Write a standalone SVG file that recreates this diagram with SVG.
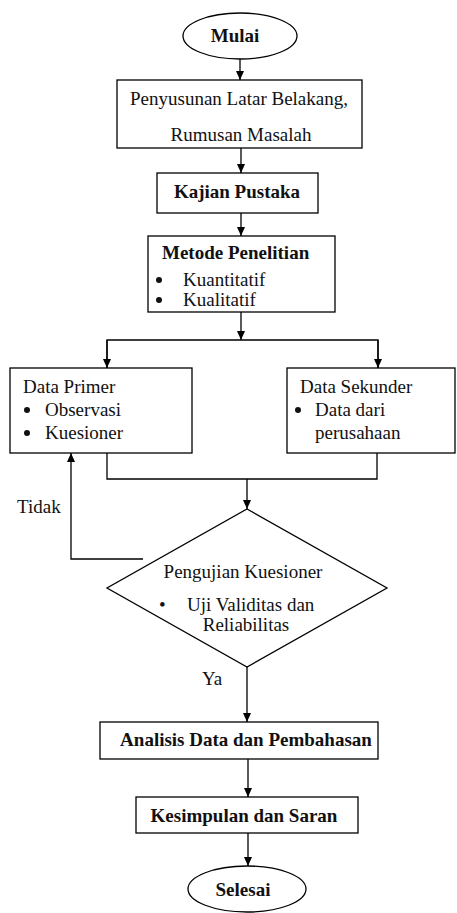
<svg xmlns="http://www.w3.org/2000/svg" width="457" height="913" viewBox="0 0 457 913">
<defs>
<marker id="ah" markerUnits="userSpaceOnUse" markerWidth="9" markerHeight="9" viewBox="0 0 9 8" refX="9" refY="4" orient="auto">
<path d="M0,0 L9,4 L0,8 z" fill="#000"/>
</marker>
<style>
.s{fill:#fff;stroke:#000;stroke-width:1.3}
.c{fill:none;stroke:#000;stroke-width:1.3}
.a{marker-end:url(#ah)}
.b{font-weight:bold}
.m{text-anchor:middle}
.dot{fill:#111}
</style>
</defs>
<rect width="457" height="913" fill="#fff"/>
<g font-family="'Liberation Serif', 'Times New Roman', 'DejaVu Serif', serif" font-size="19" fill="#111">
<g id="connectors">
<line class="c a" x1="240" y1="59" x2="240" y2="80"/>
<line class="c a" x1="241" y1="148" x2="241" y2="173"/>
<line class="c a" x1="241" y1="213" x2="241" y2="236"/>
<line class="c a" x1="241" y1="312" x2="241" y2="340"/>
<polyline class="c" points="107,368 107,340 378,340 378,368"/>
<line class="c a" x1="107" y1="340" x2="107" y2="368"/>
<line class="c a" x1="378" y1="340" x2="378" y2="368"/>
<polyline class="c" points="107,453 107,479 377,479 377,453"/>
<line class="c a" x1="247" y1="479" x2="247" y2="509"/>
<polyline class="c a" points="143,559 71,559 71,453"/>
<line class="c a" x1="247" y1="667" x2="247" y2="722"/>
<line class="c a" x1="248" y1="759" x2="248" y2="797"/>
<line class="c a" x1="248" y1="833" x2="248" y2="866"/>
<text x="17" y="513">Tidak</text>
<text x="202" y="685">Ya</text>
</g>
<g id="mulai">
<ellipse class="s" cx="240" cy="36" rx="57" ry="23"/>
<text class="b m" x="235" y="42">Mulai</text>
</g>
<g id="penyusunan">
<rect class="s" x="117" y="80" width="245" height="68"/>
<text class="m" x="239" y="105">Penyusunan Latar Belakang,</text>
<text class="m" x="241" y="141">Rumusan Masalah</text>
</g>
<g id="kajian">
<rect class="s" x="157" y="173" width="161" height="40"/>
<text class="b m" x="237" y="198">Kajian Pustaka</text>
</g>
<g id="metode">
<rect class="s" x="148" y="236" width="187" height="76"/>
<text class="b" x="162" y="259">Metode Penelitian</text>
<circle class="dot" cx="159" cy="280" r="3"/>
<text x="183" y="286">Kuantitatif</text>
<circle class="dot" cx="159" cy="300" r="3"/>
<text x="183" y="306">Kualitatif</text>
</g>
<g id="primer">
<rect class="s" x="10" y="368" width="182" height="85"/>
<text x="23" y="393">Data Primer</text>
<circle class="dot" cx="27" cy="410" r="3"/>
<text x="45" y="416">Observasi</text>
<circle class="dot" cx="27" cy="433" r="3"/>
<text x="45" y="439">Kuesioner</text>
</g>
<g id="sekunder">
<rect class="s" x="287" y="368" width="168" height="85"/>
<text x="300" y="393">Data Sekunder</text>
<circle class="dot" cx="298" cy="410" r="3"/>
<text x="315" y="416">Data dari</text>
<text x="315" y="439">perusahaan</text>
</g>
<g id="pengujian">
<polygon class="s" points="247,509 387,588 247,667 107,588"/>
<text class="m" x="243" y="578">Pengujian Kuesioner</text>
<text x="159" y="611">•</text>
<text x="187" y="611">Uji Validitas dan</text>
<text class="m" x="246" y="631">Reliabilitas</text>
</g>
<g id="analisis">
<rect class="s" x="100" y="722" width="278" height="37"/>
<text class="b m" x="246" y="746">Analisis Data dan Pembahasan</text>
</g>
<g id="kesimpulan">
<rect class="s" x="136" y="797" width="222" height="36"/>
<text class="b m" x="244" y="822">Kesimpulan dan Saran</text>
</g>
<g id="selesai">
<ellipse class="s" cx="247" cy="889" rx="59" ry="23"/>
<text class="b m" x="243" y="896">Selesai</text>
</g>
</g>
</svg>
